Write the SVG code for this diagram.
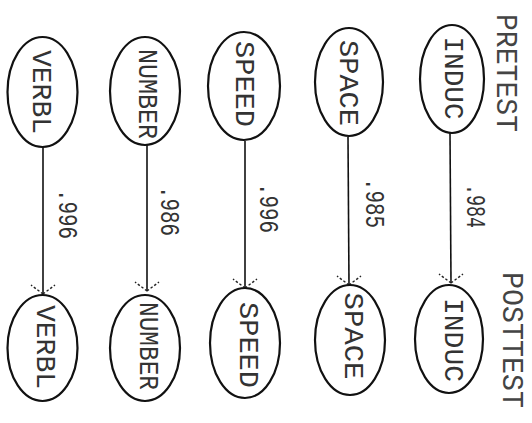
<svg xmlns="http://www.w3.org/2000/svg" width="532" height="423" viewBox="0 0 532 423">
<style>
.bg{fill:#ffffff}
.node ellipse{fill:#ffffff;stroke:#111;stroke-width:2.2}
.lbl{font-family:"Liberation Mono","DejaVu Sans Mono",monospace;font-size:28px;fill:#333;text-anchor:middle;dominant-baseline:central}
.num{font-family:"Liberation Mono","DejaVu Sans Mono",monospace;font-size:27px;fill:#333;text-anchor:middle;dominant-baseline:central}
.hdr{font-family:"Liberation Mono","DejaVu Sans Mono",monospace;font-size:29px;fill:#444;text-anchor:middle;dominant-baseline:central}
.edge{stroke:#111;stroke-width:1.6;fill:none}
.arm{stroke:#222;stroke-width:1.4;fill:none;stroke-dasharray:2.5 2}
</style>
<rect class="bg" x="0" y="0" width="532" height="423"/>

<g id="headers">
<text class="hdr" x="504" y="73" transform="rotate(90 504 73)" textLength="118" lengthAdjust="spacingAndGlyphs">PRETEST</text>
<text class="hdr" x="510" y="340" transform="rotate(90 510 340)" textLength="136" lengthAdjust="spacingAndGlyphs">POSTTEST</text>
</g>

<g id="connectors">
<line class="edge" x1="43" y1="147" x2="43" y2="294"/>
<path class="arm" d="M43 294 L31 285 M43 294 L55 285"/>
<line class="edge" x1="147" y1="145" x2="147" y2="291"/>
<path class="arm" d="M147 291 L135 282 M147 291 L159 282"/>
<line class="edge" x1="245" y1="141" x2="245" y2="288"/>
<path class="arm" d="M245 288 L233 279 M245 288 L257 279"/>
<line class="edge" x1="348" y1="137" x2="349" y2="285"/>
<path class="arm" d="M349 285 L337 276 M349 285 L361 276"/>
<line class="edge" x1="450" y1="133" x2="451" y2="283"/>
<path class="arm" d="M451 283 L439 274 M451 283 L463 274"/>
<text class="num" x="66" y="214" transform="rotate(90 66 214)" textLength="50" lengthAdjust="spacingAndGlyphs">.996</text>
<text class="num" x="168" y="211" transform="rotate(90 168 211)" textLength="50" lengthAdjust="spacingAndGlyphs">.986</text>
<text class="num" x="267" y="208" transform="rotate(90 267 208)" textLength="50" lengthAdjust="spacingAndGlyphs">.996</text>
<text class="num" x="373" y="203" transform="rotate(90 373 203)" textLength="50" lengthAdjust="spacingAndGlyphs">.985</text>
<text class="num" x="474" y="206" transform="rotate(90 474 206)" textLength="44" lengthAdjust="spacingAndGlyphs">.984</text>
</g>

<g id="pre-verbl" class="node">
<ellipse cx="42.5" cy="92" rx="35" ry="55"/>
<text class="lbl" x="40" y="92" transform="rotate(90 40 92)" textLength="84" lengthAdjust="spacingAndGlyphs">VERBL</text>
</g>
<g id="pre-number" class="node">
<ellipse cx="145" cy="91" rx="35" ry="54"/>
<text class="lbl" x="146" y="94" transform="rotate(90 146 94)" textLength="90" lengthAdjust="spacingAndGlyphs">NUMBER</text>
</g>
<g id="pre-speed" class="node">
<ellipse cx="244" cy="86" rx="36" ry="54"/>
<text class="lbl" x="243" y="84" transform="rotate(90 243 84)" textLength="86" lengthAdjust="spacingAndGlyphs">SPEED</text>
</g>
<g id="pre-space" class="node">
<ellipse cx="349" cy="82" rx="34" ry="54"/>
<text class="lbl" x="347" y="83" transform="rotate(90 347 83)" textLength="86" lengthAdjust="spacingAndGlyphs">SPACE</text>
</g>
<g id="pre-induc" class="node">
<ellipse cx="452" cy="79" rx="32" ry="54"/>
<text class="lbl" x="452" y="78" transform="rotate(90 452 78)" textLength="83" lengthAdjust="spacingAndGlyphs">INDUC</text>
</g>

<g id="post-verbl" class="node">
<ellipse cx="42.5" cy="348" rx="35" ry="53"/>
<text class="lbl" x="44" y="347" transform="rotate(90 44 347)" textLength="84" lengthAdjust="spacingAndGlyphs">VERBL</text>
</g>
<g id="post-number" class="node">
<ellipse cx="145" cy="348" rx="35" ry="53"/>
<text class="lbl" x="147" y="346" transform="rotate(90 147 346)" textLength="88" lengthAdjust="spacingAndGlyphs">NUMBER</text>
</g>
<g id="post-speed" class="node">
<ellipse cx="245" cy="343" rx="35" ry="55"/>
<text class="lbl" x="247" y="345" transform="rotate(90 247 345)" textLength="86" lengthAdjust="spacingAndGlyphs">SPEED</text>
</g>
<g id="post-space" class="node">
<ellipse cx="350" cy="340" rx="35" ry="55"/>
<text class="lbl" x="352" y="336" transform="rotate(90 352 336)" textLength="87" lengthAdjust="spacingAndGlyphs">SPACE</text>
</g>
<g id="post-induc" class="node">
<ellipse cx="449" cy="339" rx="34" ry="54"/>
<text class="lbl" x="452" y="340" transform="rotate(90 452 340)" textLength="84" lengthAdjust="spacingAndGlyphs">INDUC</text>
</g>
</svg>
